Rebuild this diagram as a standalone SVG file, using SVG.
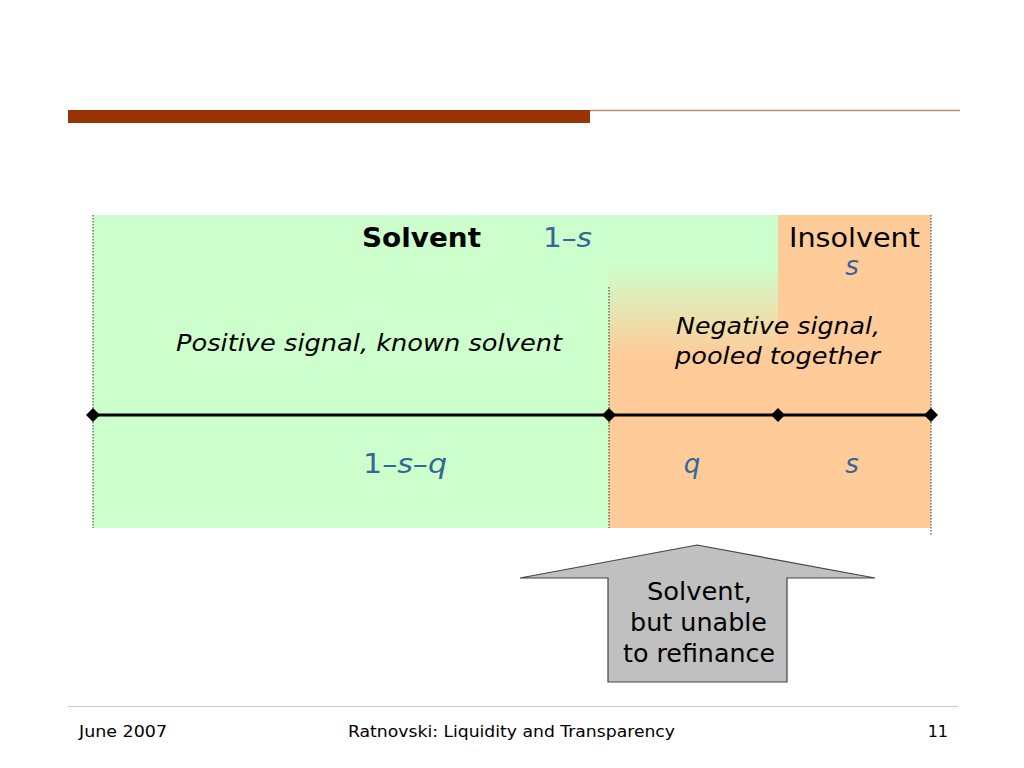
<svg xmlns="http://www.w3.org/2000/svg" width="1024" height="768" viewBox="0 0 1024 768">
<defs>
<linearGradient id="mid" x1="0" y1="215" x2="0" y2="528" gradientUnits="userSpaceOnUse">
<stop offset="0.15" stop-color="#CCFFCC"/>
<stop offset="0.45" stop-color="#FFCC99"/>
</linearGradient>
<marker id="dia" viewBox="-8 -8 16 16" markerWidth="16" markerHeight="16" markerUnits="userSpaceOnUse" refX="0" refY="0" orient="auto">
<path d="M0,-7 L7,0 L0,7 L-7,0 Z" fill="#000"/>
</marker>
<style>
.t{font-family:"DejaVu Sans","Liberation Sans",sans-serif;fill:#000}
.b{fill:#336699}
.dot{stroke:#333;stroke-width:1;stroke-dasharray:1.5 1.5;fill:none}
</style>
</defs>
<rect width="1024" height="768" fill="#fff"/>
<g id="header">
<rect x="68" y="110" width="522" height="13" fill="#993300"/>
<line x1="590" y1="110.5" x2="960" y2="110.5" stroke="#C08878" stroke-width="1.5"/>
</g>
<g id="solvent-region">
<rect x="93" y="215" width="516" height="313" fill="#CCFFCC"/>
<text class="t" x="421.5" y="247" font-size="26" font-weight="bold" text-anchor="middle" textLength="119" lengthAdjust="spacingAndGlyphs">Solvent</text>
<text class="t b" x="567.5" y="247" font-size="26" text-anchor="middle" textLength="49" lengthAdjust="spacingAndGlyphs">1–<tspan font-style="italic">s</tspan></text>
<text class="t" x="369" y="351" font-size="23" font-style="italic" text-anchor="middle" textLength="386" lengthAdjust="spacingAndGlyphs">Positive signal, known solvent</text>
<text class="t b" x="405" y="473" font-size="26" text-anchor="middle" textLength="84" lengthAdjust="spacingAndGlyphs">1–<tspan font-style="italic">s</tspan>–<tspan font-style="italic">q</tspan></text>
</g>
<g id="pooled-region">
<rect x="609" y="215" width="169" height="313" fill="url(#mid)"/>
<text class="t b" x="692" y="473" font-size="26" font-style="italic" text-anchor="middle">q</text>
</g>
<g id="insolvent-region">
<rect x="778" y="215" width="153" height="313" fill="#FFCC99"/>
<text class="t" x="854.5" y="247" font-size="26" text-anchor="middle" textLength="131" lengthAdjust="spacingAndGlyphs">Insolvent</text>
<text class="t b" x="852" y="275" font-size="26" font-style="italic" text-anchor="middle">s</text>
<text class="t b" x="852" y="473" font-size="26" font-style="italic" text-anchor="middle">s</text>
</g>
<g id="pooled-label">
<text class="t" x="778" y="334" font-size="23" font-style="italic" text-anchor="middle" textLength="204" lengthAdjust="spacingAndGlyphs">Negative signal,</text>
<text class="t" x="777.5" y="364" font-size="23" font-style="italic" text-anchor="middle" textLength="205" lengthAdjust="spacingAndGlyphs">pooled together</text>
</g>
<g id="connectors">
<line class="dot" x1="93" y1="215" x2="93" y2="528"/>
<line class="dot" x1="609" y1="287" x2="609" y2="528"/>
<line class="dot" x1="931" y1="215" x2="931" y2="535"/>
<polyline points="93,415 609,415 778,415 931,415" fill="none" stroke="#000" stroke-width="3" marker-start="url(#dia)" marker-mid="url(#dia)" marker-end="url(#dia)"/>
</g>
<g id="arrow-note">
<path d="M697,545 L875,578 L787,578 L787,682 L608,682 L608,578 L520,578 Z" fill="#C0C0C0" stroke="#444" stroke-width="1.2"/>
<text class="t" x="699.5" y="600" font-size="24" text-anchor="middle" textLength="105" lengthAdjust="spacingAndGlyphs">Solvent,</text>
<text class="t" x="698.5" y="631" font-size="24" text-anchor="middle" textLength="137" lengthAdjust="spacingAndGlyphs">but unable</text>
<text class="t" x="699" y="662" font-size="24" text-anchor="middle" textLength="152" lengthAdjust="spacingAndGlyphs">to refinance</text>
</g>
<g id="footer">
<line x1="68" y1="706.5" x2="958" y2="706.5" stroke="#D8C8B8" stroke-width="1"/>
<text class="t" x="79" y="737" font-size="16" textLength="88" lengthAdjust="spacingAndGlyphs">June 2007</text>
<text class="t" x="511.5" y="737" font-size="16" text-anchor="middle" textLength="327" lengthAdjust="spacingAndGlyphs">Ratnovski: Liquidity and Transparency</text>
<text class="t" x="948" y="737" font-size="16" text-anchor="end">11</text>
</g>
</svg>
